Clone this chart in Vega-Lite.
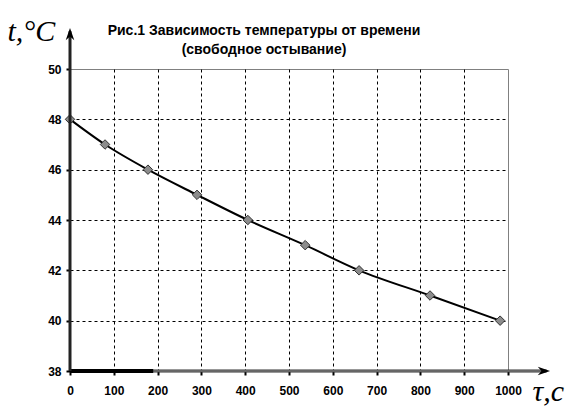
{
  "$schema": "https://vega.github.io/schema/vega-lite/v6.json",
  "width": 438,
  "height": 302,
  "autosize": {"type": "none"},
  "padding": {"left": 70, "top": 69, "right": 75, "bottom": 42},
  "background": "white",
  "config": {"view": {"stroke": "#808080", "strokeWidth": 1}},
  "title": {
    "text": ["Рис.1 Зависимость температуры от времени", "(свободное остывание)"],
    "font": "Liberation Sans",
    "fontSize": 14,
    "fontWeight": "bold",
    "color": "black",
    "dx": -25,
    "offset": -41,
    "lineHeight": 19
  },
  "datasets": {
    "main": [
      {"time": 0, "temp": 48},
      {"time": 80, "temp": 47},
      {"time": 178, "temp": 46},
      {"time": 290, "temp": 45},
      {"time": 406, "temp": 44},
      {"time": 537, "temp": 43},
      {"time": 660, "temp": 42},
      {"time": 822, "temp": 41},
      {"time": 982, "temp": 40}
    ],
    "yaxis": [{"x": 0, "y1": 38, "y2": 51.5}],
    "xaxis": [{"y": 38, "x1": 0, "x2": 1088}],
    "seg": [{"y": 38, "x1": 0, "x2": 190}],
    "yarrow": [{"x": 0, "y": 51.39}],
    "xarrow": [{"x": 1082, "y": 38}]
  },
  "layer": [
    {
      "data": {"name": "main"},
      "mark": {"type": "line", "interpolate": "monotone", "color": "black", "strokeWidth": 2},
      "encoding": {
        "x": {
          "field": "time", "type": "quantitative",
          "scale": {"domain": [0, 1000], "nice": false, "zero": false},
          "axis": {
            "values": [0, 100, 200, 300, 400, 500, 600, 700, 800, 900, 1000],
            "format": "d",
            "domain": false,
            "grid": true,
            "gridColor": "black",
            "gridDash": [3, 3],
            "gridWidth": 1,
            "gridOpacity": {"condition": {"test": "datum.value == 0 || datum.value == 1000", "value": 0}, "value": 1},
            "tickColor": "black",
            "tickSize": 4,
            "tickWidth": 2,
            "labelFont": "Liberation Sans",
            "labelFontSize": 12,
            "labelFontWeight": "bold",
            "labelColor": "black",
            "labelPadding": 10,
            "labelFlush": false,
            "title": "τ,c",
            "titleFont": "Liberation Serif",
            "titleFontStyle": "italic",
            "titleFontWeight": "normal",
            "titleFontSize": 30,
            "titleColor": "black",
            "titleAnchor": null,
            "titleAlign": "left",
            "titleBaseline": "alphabetic",
            "titleX": 462,
            "titleY": 29
          }
        },
        "y": {
          "field": "temp", "type": "quantitative",
          "scale": {"domain": [38, 50], "nice": false, "zero": false},
          "axis": {
            "values": [38, 40, 42, 44, 46, 48, 50],
            "domain": false,
            "grid": true,
            "gridColor": "black",
            "gridDash": [3, 3],
            "gridWidth": 1,
            "gridOpacity": {"condition": {"test": "datum.value == 38 || datum.value == 50", "value": 0}, "value": 1},
            "tickColor": "black",
            "tickSize": 4,
            "tickWidth": 2,
            "labelFont": "Liberation Sans",
            "labelFontSize": 12,
            "labelFontWeight": "bold",
            "labelColor": "black",
            "labelPadding": 5,
            "labelFlush": false,
            "title": "t,°C",
            "titleFont": "Liberation Serif",
            "titleFontStyle": "italic",
            "titleFontWeight": "normal",
            "titleFontSize": 30,
            "titleColor": "black",
            "titleAngle": 0,
            "titleAnchor": null,
            "titleAlign": "left",
            "titleBaseline": "alphabetic",
            "titleX": -63,
            "titleY": -29
          }
        }
      }
    },
    {
      "data": {"name": "main"},
      "mark": {"type": "point", "shape": "diamond", "filled": true, "fill": "#8c8c8c", "stroke": "#333333", "strokeWidth": 1, "size": 90, "opacity": 1},
      "encoding": {
        "x": {"field": "time", "type": "quantitative"},
        "y": {"field": "temp", "type": "quantitative"}
      }
    },
    {
      "data": {"name": "xaxis"},
      "mark": {"type": "rule", "color": "#333333", "strokeWidth": 3},
      "encoding": {
        "x": {"field": "x1", "type": "quantitative"},
        "x2": {"field": "x2"},
        "y": {"field": "y", "type": "quantitative"}
      }
    },
    {
      "data": {"name": "xaxis"},
      "mark": {"type": "rule", "color": "#9a9a9a", "strokeWidth": 1},
      "encoding": {
        "x": {"field": "x1", "type": "quantitative"},
        "x2": {"field": "x2"},
        "y": {"field": "y", "type": "quantitative"}
      }
    },
    {
      "data": {"name": "seg"},
      "mark": {"type": "rule", "color": "black", "strokeWidth": 4},
      "encoding": {
        "x": {"field": "x1", "type": "quantitative"},
        "x2": {"field": "x2"},
        "y": {"field": "y", "type": "quantitative"}
      }
    },
    {
      "data": {"name": "yaxis"},
      "mark": {"type": "rule", "color": "#222222", "strokeWidth": 3},
      "encoding": {
        "x": {"field": "x", "type": "quantitative"},
        "y": {"field": "y1", "type": "quantitative"},
        "y2": {"field": "y2"}
      }
    },
    {
      "data": {"name": "yarrow"},
      "mark": {"type": "point", "shape": "M -0.7 1 L 0 -1 L 0.7 1 L 0 0.4 Z", "filled": true, "color": "black", "size": 150, "opacity": 1},
      "encoding": {
        "x": {"field": "x", "type": "quantitative"},
        "y": {"field": "y", "type": "quantitative"}
      }
    },
    {
      "data": {"name": "xarrow"},
      "mark": {"type": "point", "shape": "M -1 -0.7 L 1 0 L -1 0.7 L -0.4 0 Z", "filled": true, "color": "black", "size": 150, "opacity": 1},
      "encoding": {
        "x": {"field": "x", "type": "quantitative"},
        "y": {"field": "y", "type": "quantitative"}
      }
    }
  ]
}
